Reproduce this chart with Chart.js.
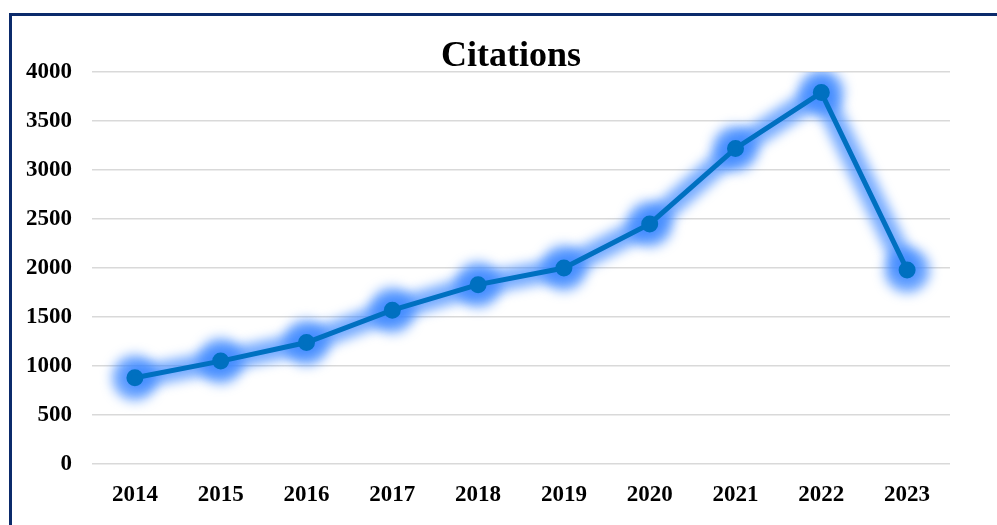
<!DOCTYPE html>
<html>
<head>
<meta charset="utf-8">
<script src="https://cdn.jsdelivr.net/npm/chart.js@4.4.0/dist/chart.umd.min.js"></script>
<style>
  html, body { margin: 0; padding: 0; background: #fff; }
  #wrap { position: relative; width: 997px; height: 525px; }
  #frame { position: absolute; left: 9px; top: 13px; right: 0; bottom: 0;
           border-top: 3px solid #0b2a6b; border-left: 3px solid #0b2a6b; }
  canvas { position: absolute; left: 0; top: 0; }
</style>
</head>
<body>
<div id="wrap">
  <div id="frame"></div>
  <canvas id="myChart" width="997" height="525"></canvas>
</div>
<script>
var years = ['2014', '2015', '2016', '2017', '2018', '2019', '2020', '2021', '2022', '2023'];
var citations = [880, 1050, 1240, 1570, 1830, 2000, 2450, 3220, 3790, 1980];
var yTicks = [0, 500, 1000, 1500, 2000, 2500, 3000, 3500, 4000];

var serif = "'Liberation Serif', 'Times New Roman', serif";

// the second dataset is the glow: same data, wide and blurred, drawn underneath
var glow = {
    id: 'glow',
    beforeDatasetDraw: function (chart, args) {
        var c = chart.ctx;
        c.save();
        if (args.index === 1) {
            c.filter = 'blur(6px)';
        }
    },
    afterDatasetDraw: function (chart) {
        chart.ctx.restore();
    }
};

// title is drawn by hand so it sits where the original one does
var titlePlugin = {
    id: 'titleText',
    afterDraw: function (chart) {
        var c = chart.ctx;
        c.save();
        c.font = 'bold 36px ' + serif;
        c.fillStyle = '#000';
        c.textAlign = 'center';
        c.textBaseline = 'middle';
        c.fillText('Citations', 511, 57);
        c.restore();
    }
};

var myLineChart = new Chart(document.getElementById('myChart'), {
    type: 'line',
    data: {
        labels: years,
        datasets: [{
            label: 'Citations',
            data: citations,
            borderColor: '#0070c0',
            backgroundColor: '#0070c0',
            borderWidth: 5,
            pointRadius: 6,
            pointHoverRadius: 6,
            tension: 0,
            order: 0
        }, {
            label: 'glow',
            data: citations,
            borderColor: 'rgba(60, 135, 255, 0.7)',
            backgroundColor: 'rgba(60, 135, 255, 0.75)',
            borderWidth: 22,
            pointRadius: 12,
            pointHoverRadius: 12,
            tension: 0,
            order: 1
        }]
    },
    plugins: [glow, titlePlugin],
    options: {
        responsive: false,
        animation: false,
        layout: { padding: { left: 0, right: 47, top: 72, bottom: 0 } },
        plugins: {
            legend: { display: false },
            tooltip: { enabled: false },
            title: { display: false }
        },
        scales: {
            x: {
                offset: true,
                grid: { display: false },
                border: { display: false },
                ticks: {
                    color: '#000',
                    padding: 9,
                    maxRotation: 0,
                    font: { family: serif, size: 23, weight: 'bold' }
                },
                afterFit: function (scale) { scale.height = 61; }
            },
            y: {
                min: 0,
                max: 4000,
                afterBuildTicks: function (scale) {
                    scale.ticks = yTicks.map(function (v) { return { value: v }; });
                },
                grid: { color: '#d9d9d9', lineWidth: 1.5, drawTicks: false },
                border: { display: false },
                ticks: {
                    color: '#000',
                    padding: 20,
                    font: { family: serif, size: 23, weight: 'bold' },
                    callback: function (v) { return String(v); }
                },
                afterFit: function (scale) { scale.width = 92; }
            }
        }
    }
});
</script>
</body>
</html>
